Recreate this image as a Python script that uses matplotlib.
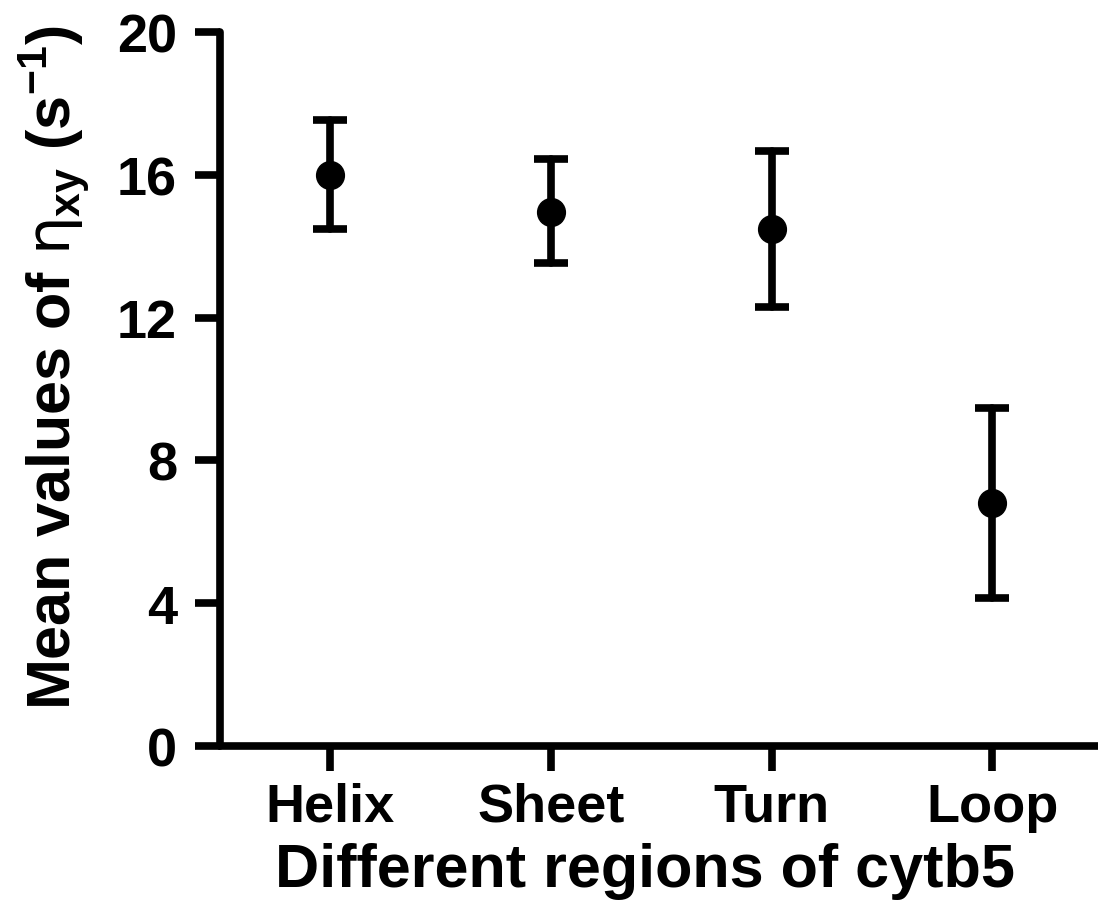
import matplotlib
matplotlib.use("Agg")
import matplotlib.pyplot as plt

# values
regions = ["Helix", "Sheet", "Turn", "Loop"]
mean_eta = [16.01, 14.95, 14.49, 6.80]
err_upper = [17.55, 16.45, 16.66, 9.46]
err_lower = [14.49, 13.53, 12.29, 4.13]
y_ticks = [0, 4, 8, 12, 16, 20]

plt.rcParams["font.family"] = ["Liberation Sans", "DejaVu Sans"]
plt.rcParams["font.weight"] = "bold"
plt.rcParams["mathtext.fontset"] = "custom"
plt.rcParams["mathtext.it"] = "DejaVu Sans:weight=normal"
plt.rcParams["mathtext.rm"] = "Liberation Sans:bold"
plt.rcParams["mathtext.bf"] = "Liberation Sans:bold"

x = list(range(1, len(regions) + 1))
yerr = [[m - lo for m, lo in zip(mean_eta, err_lower)],
        [hi - m for m, hi in zip(mean_eta, err_upper)]]

fig = plt.figure(figsize=(10.98, 9.03), dpi=100)
ax = fig.add_axes([0.2004, 0.1731, 0.7996, 0.790])

eb = ax.errorbar(x, mean_eta, yerr=yerr, fmt="o", color="black",
                 markersize=20, elinewidth=5.5, capsize=12, capthick=5.5,
                 clip_on=False, zorder=3)
for ln in eb[2]:
    ln.set_capstyle("round")

ax.set_xlim(0.5, 4.48)
ax.set_ylim(0, 20)
ax.set_xticks(x)
ax.set_xticklabels(regions)
ax.set_yticks(y_ticks)

for side in ["top", "right"]:
    ax.spines[side].set_visible(False)
for side in ["left", "bottom"]:
    ax.spines[side].set_linewidth(5.5)
    ax.spines[side].set_capstyle("round")

ax.tick_params(axis="both", direction="out", length=18, width=5.5,
               labelsize=39)
ax.tick_params(axis="y", pad=13)
ax.tick_params(axis="x", pad=8)
for t in ax.get_xticklabels() + ax.get_yticklabels():
    t.set_fontweight("bold")

ax.set_xlabel("Different regions of cytb5", fontsize=44, fontweight="bold",
              labelpad=7)
ax.set_ylabel(r"Mean values of $\eta_{\mathbf{xy}}$ (s$^{\mathbf{-1}}$)",
              fontsize=44, fontweight="bold", labelpad=18)
ax.xaxis.label.set_x(0.484)
ax.yaxis.label.set_y(0.532)

fig.savefig("out.png", dpi=100)
